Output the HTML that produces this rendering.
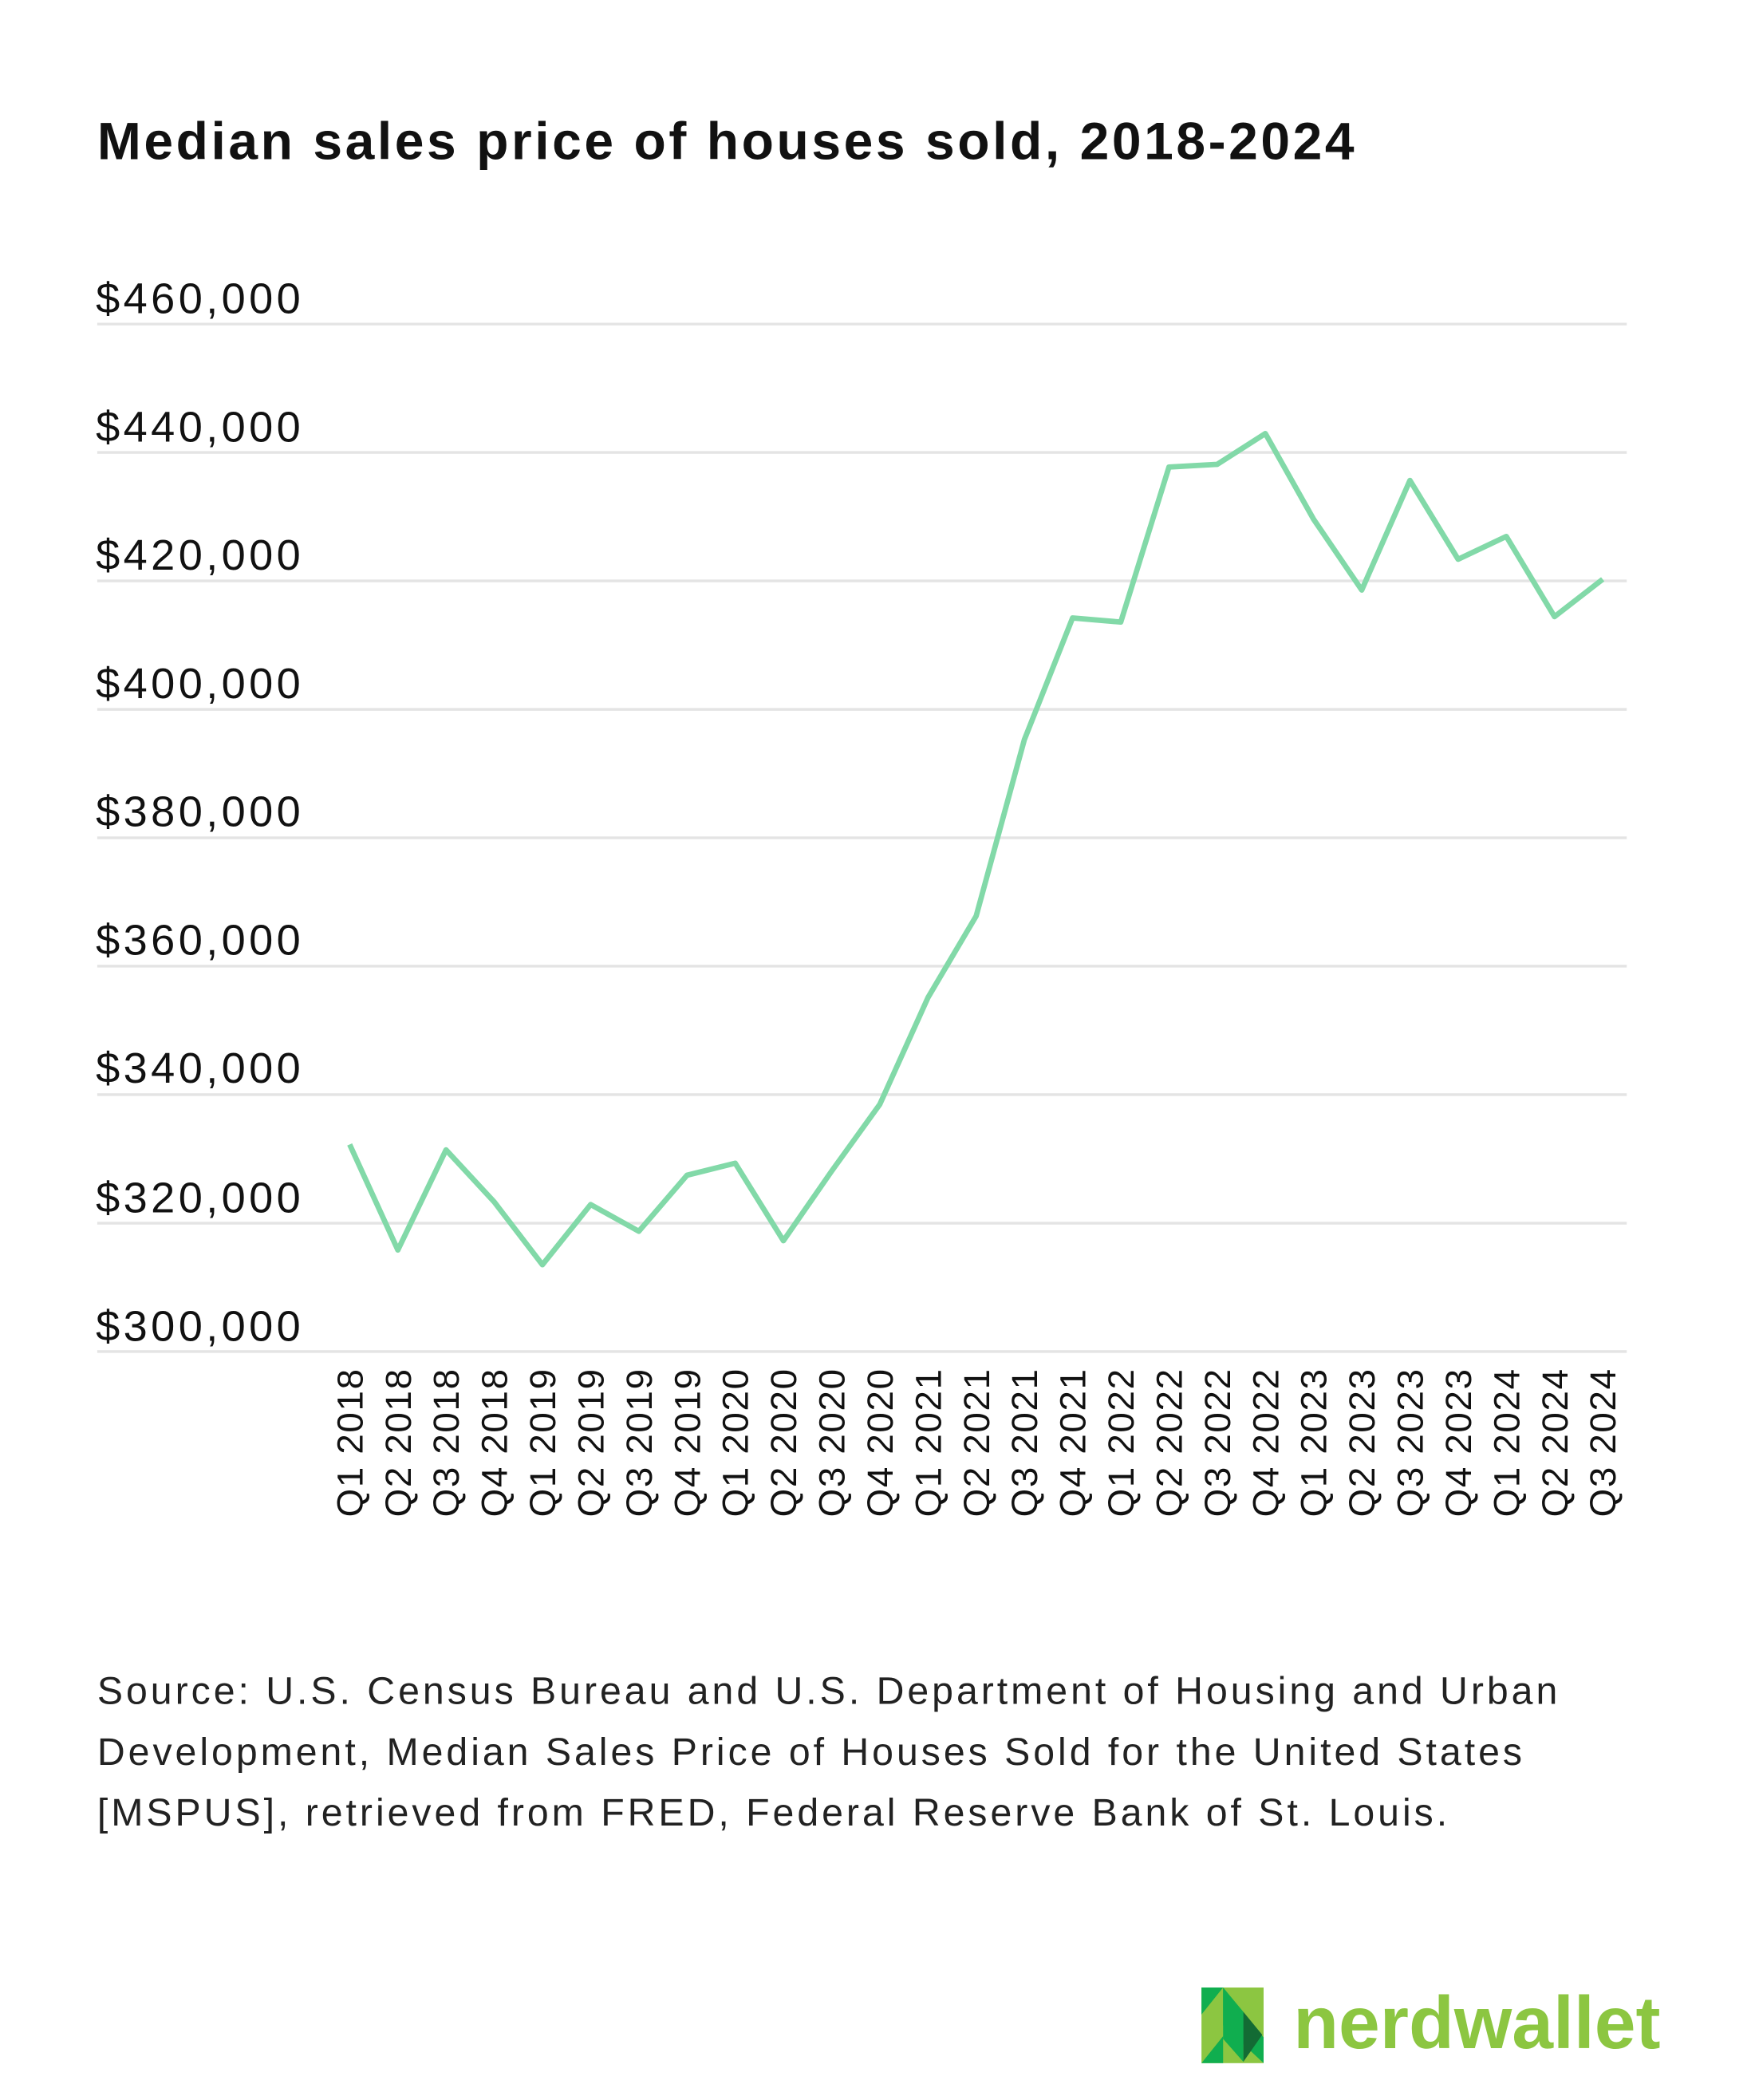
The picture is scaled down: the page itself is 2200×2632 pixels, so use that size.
<!DOCTYPE html>
<html><head><meta charset="utf-8"><style>html,body{margin:0;padding:0;background:#fff}svg{display:block}</style></head>
<body>
<svg width="2200" height="2632" viewBox="0 0 1300 1555.3" xmlns="http://www.w3.org/2000/svg" font-family="Liberation Sans, sans-serif">
<rect width="1300" height="1556" fill="#fff"/>
<text x="72" y="118" font-size="39" font-weight="bold" fill="#111" letter-spacing="2.1">Median sales price of houses sold, 2018-2024</text>
<g stroke="#e4e4e4" stroke-width="2">
<line x1="72" x2="1205" y1="240" y2="240"/><line x1="72" x2="1205" y1="335.1" y2="335.1"/>
<line x1="72" x2="1205" y1="430.2" y2="430.2"/><line x1="72" x2="1205" y1="525.4" y2="525.4"/>
<line x1="72" x2="1205" y1="620.5" y2="620.5"/><line x1="72" x2="1205" y1="715.6" y2="715.6"/>
<line x1="72" x2="1205" y1="810.7" y2="810.7"/><line x1="72" x2="1205" y1="905.9" y2="905.9"/>
<line x1="72" x2="1205" y1="1001" y2="1001"/>
</g>
<g font-size="32" fill="#111" letter-spacing="2.6">
<text x="71" y="232">$460,000</text><text x="71" y="327">$440,000</text>
<text x="71" y="422">$420,000</text><text x="71" y="517">$400,000</text>
<text x="71" y="612">$380,000</text><text x="71" y="707">$360,000</text>
<text x="71" y="802">$340,000</text><text x="71" y="898">$320,000</text>
<text x="71" y="993">$300,000</text>
</g>
<polyline fill="none" stroke="#82d9a8" stroke-width="4" stroke-linejoin="round" points="259,847.6 294.7,925.8 330.4,851.6 366.1,890.2 401.8,936.7 437.5,892.1 473.2,911.9 508.9,870.4 544.6,861.5 580.3,918.9 616,867.4 651.7,817.9 687.4,738.8 723.1,678.4 758.8,547.8 794.5,457.7 830.2,460.7 865.9,345.9 901.6,343.9 937.3,321.1 973,384.5 1008.7,437 1044.4,355.8 1080.1,414.2 1115.8,397.3 1151.5,456.7 1187.2,429"/>
<g font-size="27" fill="#111" text-anchor="end" letter-spacing="1">
<text transform="translate(268.5,1013) rotate(-90)">Q1 2018</text>
<text transform="translate(304.2,1013) rotate(-90)">Q2 2018</text>
<text transform="translate(339.9,1013) rotate(-90)">Q3 2018</text>
<text transform="translate(375.6,1013) rotate(-90)">Q4 2018</text>
<text transform="translate(411.3,1013) rotate(-90)">Q1 2019</text>
<text transform="translate(447,1013) rotate(-90)">Q2 2019</text>
<text transform="translate(482.7,1013) rotate(-90)">Q3 2019</text>
<text transform="translate(518.4,1013) rotate(-90)">Q4 2019</text>
<text transform="translate(554.1,1013) rotate(-90)">Q1 2020</text>
<text transform="translate(589.8,1013) rotate(-90)">Q2 2020</text>
<text transform="translate(625.5,1013) rotate(-90)">Q3 2020</text>
<text transform="translate(661.2,1013) rotate(-90)">Q4 2020</text>
<text transform="translate(696.9,1013) rotate(-90)">Q1 2021</text>
<text transform="translate(732.6,1013) rotate(-90)">Q2 2021</text>
<text transform="translate(768.3,1013) rotate(-90)">Q3 2021</text>
<text transform="translate(804,1013) rotate(-90)">Q4 2021</text>
<text transform="translate(839.7,1013) rotate(-90)">Q1 2022</text>
<text transform="translate(875.4,1013) rotate(-90)">Q2 2022</text>
<text transform="translate(911.1,1013) rotate(-90)">Q3 2022</text>
<text transform="translate(946.8,1013) rotate(-90)">Q4 2022</text>
<text transform="translate(982.5,1013) rotate(-90)">Q1 2023</text>
<text transform="translate(1018.2,1013) rotate(-90)">Q2 2023</text>
<text transform="translate(1053.9,1013) rotate(-90)">Q3 2023</text>
<text transform="translate(1089.6,1013) rotate(-90)">Q4 2023</text>
<text transform="translate(1125.3,1013) rotate(-90)">Q1 2024</text>
<text transform="translate(1161,1013) rotate(-90)">Q2 2024</text>
<text transform="translate(1196.7,1013) rotate(-90)">Q3 2024</text>
</g>
<g font-size="28.5" fill="#222" letter-spacing="2.35">
<text x="72" y="1262">Source: U.S. Census Bureau and U.S. Department of Housing and Urban</text>
<text x="72" y="1307">Development, Median Sales Price of Houses Sold for the United States</text>
<text x="72" y="1352">[MSPUS], retrieved from FRED, Federal Reserve Bank of St. Louis.</text>
</g>
<g>
<rect x="890" y="1472" width="46" height="56" fill="#8cc641"/>
<polygon points="890,1472 906,1472 890,1492" fill="#10ae4f"/>
<polygon points="906,1472 936,1509 936,1528 906,1500" fill="#10ae4f"/>
<polygon points="890,1528 906,1528 906,1508" fill="#10ae4f"/>
<polygon points="921,1490 935,1507 921,1527" fill="#136b34"/>
<polygon points="906,1472 921,1490 921,1527 906,1510" fill="#10ae4f"/>
<text x="958" y="1517" font-size="55" font-weight="bold" fill="#8cc641">nerdwallet</text>
</g>
</svg>
</body></html>
